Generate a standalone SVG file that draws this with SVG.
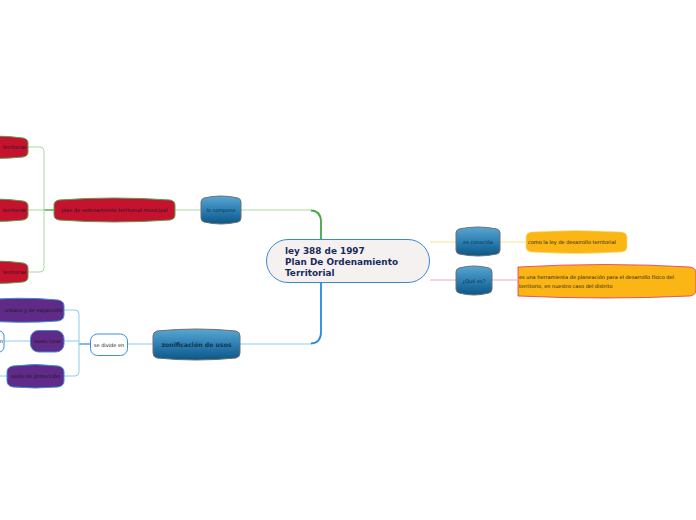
<svg xmlns="http://www.w3.org/2000/svg" width="696" height="520" viewBox="0 0 696 520">
<defs>
<linearGradient id="gblue" x1="0" y1="0" x2="0" y2="1">
<stop offset="0" stop-color="#58a6d2"/>
<stop offset="0.5" stop-color="#2e7fb3"/>
<stop offset="1" stop-color="#0b5686"/>
</linearGradient>
<style>
.t{font-family:"DejaVu Sans",Verdana,sans-serif;font-size:5px;fill:#1a1a1a}
.tb{font-family:"DejaVu Sans",Verdana,sans-serif;font-size:5px;fill:#0d2f4a}
.cyl{fill:url(#gblue);stroke:#6f6f6f;stroke-width:1}
.red{fill:#c4122f;stroke:#5aa04a;stroke-width:1}
.pur{fill:#5f2a88;stroke:#3d8ed6;stroke-width:1}
.org{fill:#fbb515}
.cg{fill:none;stroke:#a9d7a2;stroke-width:1}
.cb{fill:none;stroke:#8fcbef;stroke-width:1}
</style>
</defs>
<rect width="696" height="520" fill="#ffffff"/>
<g id="connectors">
<path d="M321,239 L321,222 Q321,210 309,210 L241,210" class="cg"/>
<path d="M321,239 L321,222 Q321,211 311,210.5" fill="none" stroke="#4aa84a" stroke-width="1.8"/>
<path d="M321,283 L321,332 Q321,344 309,344 L240,344" class="cb"/>
<path d="M321,283 L321,332 Q321,343 311,343.5" fill="none" stroke="#2a8ce0" stroke-width="1.8"/>
<path d="M201,210 L175,210" class="cg"/>
<path d="M54,210 L28,210" class="cg"/>
<path d="M54,210 L44,210" fill="none" stroke="#4aa84a" stroke-width="1.2"/>
<path d="M28,147 L40,147 Q44,147 44,151 L44,268 Q44,272 40,272 L28,272" class="cg"/>
<path d="M153,344 L127,344" class="cb"/>
<path d="M90,344 L79,344" fill="none" stroke="#2a8ce0" stroke-width="1.2"/>
<path d="M64,310 L75,310 Q79,310 79,314 L79,372 Q79,376 75,376 L64,376" class="cb"/>
<path d="M64,341 L79,341" class="cb"/>
<path d="M30,341 L4,341" class="cb"/>
<path d="M7,376 L0,376" class="cb"/>
<path d="M430,242 L456,242" fill="none" stroke="#f6e58a" stroke-width="1"/>
<path d="M500,242 L526,242" fill="none" stroke="#f6e58a" stroke-width="1"/>
<path d="M430,280 L456,280" fill="none" stroke="#f2a6c4" stroke-width="1"/>
<path d="M492,280 L517,280" fill="none" stroke="#f2a6c4" stroke-width="1"/>
</g>
<g id="central">
<rect x="266.5" y="239.5" width="163" height="43" rx="21.5" fill="#f5f1f0" stroke="#3a8ad0" stroke-width="1"/>
<text font-family="DejaVu Sans,Verdana,sans-serif" font-weight="bold" font-size="8.9" fill="#1b2a5c">
<tspan x="285" y="254">ley 388 de 1997</tspan>
<tspan x="285" y="265">Plan De Ordenamiento</tspan>
<tspan x="285" y="276">Territorial</tspan>
</text>
</g>
<g id="lo-compone">
<path class="cyl" d="M204,198 Q221,194 238,198 Q241,199 241,202 L241,218 Q241,221 238,222 Q221,226 204,222 Q201,221 201,218 L201,202 Q201,199 204,198 Z"/>
<text class="tb" x="221" y="212" text-anchor="middle">lo compone</text>
</g>
<g id="plan-municipal">
<path class="red" d="M59,200 Q114,196 170,200 Q175,201 175,205 L175,215 Q175,219 170,220 Q114,224 59,220 Q54,219 54,215 L54,205 Q54,201 59,200 Z"/>
<text class="t" x="114.5" y="212" text-anchor="middle">plan de ordenamiento territorial municipal</text>
</g>
<g id="territorial-1">
<path class="red" d="M-40,138 Q-6,134 23,138 Q28,139 28,143 L28,152 Q28,156 23,157 Q-6,160 -40,157 Z"/>
<text class="t" x="26" y="149" text-anchor="end">territorial</text>
</g>
<g id="territorial-2">
<path class="red" d="M-40,201 Q-6,197 23,201 Q28,202 28,206 L28,215 Q28,219 23,220 Q-6,223 -40,220 Z"/>
<text class="t" x="26" y="212" text-anchor="end">territorial</text>
</g>
<g id="territorial-3">
<path class="red" d="M-40,263 Q-6,259 23,263 Q28,264 28,268 L28,277 Q28,281 23,282 Q-6,285 -40,282 Z"/>
<text class="t" x="26" y="274" text-anchor="end">territorial</text>
</g>
<g id="zonificacion">
<path class="cyl" d="M157,331 Q196.5,327 236,331 Q240,332 240,336 L240,353 Q240,357 236,358 Q196.5,362 157,358 Q153,357 153,353 L153,336 Q153,332 157,331 Z"/>
<text x="196.5" y="346.5" text-anchor="middle" font-family="DejaVu Sans,Verdana,sans-serif" font-weight="bold" font-size="6.2" fill="#13344f">zonificación de usos</text>
</g>
<g id="se-divide-en">
<rect x="90.5" y="334" width="37" height="21.5" rx="7" fill="#ffffff" stroke="#3d8ed6" stroke-width="1"/>
<text class="t" x="109" y="346.5" text-anchor="middle">se divide en</text>
</g>
<g id="urbano">
<path class="pur" d="M-30,301 Q20,296 58,300 Q64,301 64,306 L64,315 Q64,320 58,321 Q20,324 -30,320 Z"/>
<text class="t" x="62" y="312" text-anchor="end">urbano y de expansión</text>
</g>
<g id="suelo-rural">
<rect class="pur" x="30.5" y="330.5" width="33.5" height="21.5" rx="8"/>
<text class="t" x="47.25" y="343" text-anchor="middle">suelo rural</text>
</g>
<g id="suelo-proteccion">
<path class="pur" d="M13,366 Q35,363 58,366 Q64,367 64,372 L64,381 Q64,386 58,387 Q35,389 13,387 Q7,386 7,381 L7,372 Q7,367 13,366 Z"/>
<text class="t" x="35.5" y="378" text-anchor="middle">suelo de protección</text>
</g>
<g id="cut-node">
<rect x="-30" y="331" width="34" height="21" rx="5" fill="#ffffff" stroke="#3d8ed6" stroke-width="1"/>
<text class="t" x="3" y="343" text-anchor="end">n</text>
</g>
<g id="es-conocida">
<path class="cyl" d="M459,229 Q478,225 497,229 Q500,230 500,233 L500,250 Q500,253 497,254 Q478,258 459,254 Q456,253 456,250 L456,233 Q456,230 459,229 Z"/>
<text class="tb" x="478" y="244" text-anchor="middle">es conocida</text>
</g>
<g id="como-la-ley">
<path class="org" d="M531,232 Q576,229 622,232 Q627,233 627,237 L627,247 Q627,251 622,252 Q576,255 531,252 Q526,251 526,247 L526,237 Q526,233 531,232 Z" stroke="#f6e58a" stroke-width="0.6"/>
<text class="t" x="528" y="244">como la ley de desarrollo territorial</text>
</g>
<g id="que-es">
<path class="cyl" d="M459,268 Q474,264 489,268 Q492,269 492,272 L492,289 Q492,292 489,293 Q474,297 459,293 Q456,292 456,289 L456,272 Q456,269 459,268 Z"/>
<text class="tb" x="474" y="283" text-anchor="middle">¿Qué es?</text>
</g>
<g id="herramienta">
<path class="org" d="M518,267 Q606,262 690,267 Q696,268 696,273 L696,290 Q696,295 690,296 Q606,300 518,296 L518,267 Z" stroke="#e0306a" stroke-width="0.8"/>
<text class="t" x="519" y="279">es una herramienta de planeación para el desarrollo físico del</text>
<text class="t" x="519" y="288">territorio, en nuestro caso del distrito</text>
</g>
</svg>
